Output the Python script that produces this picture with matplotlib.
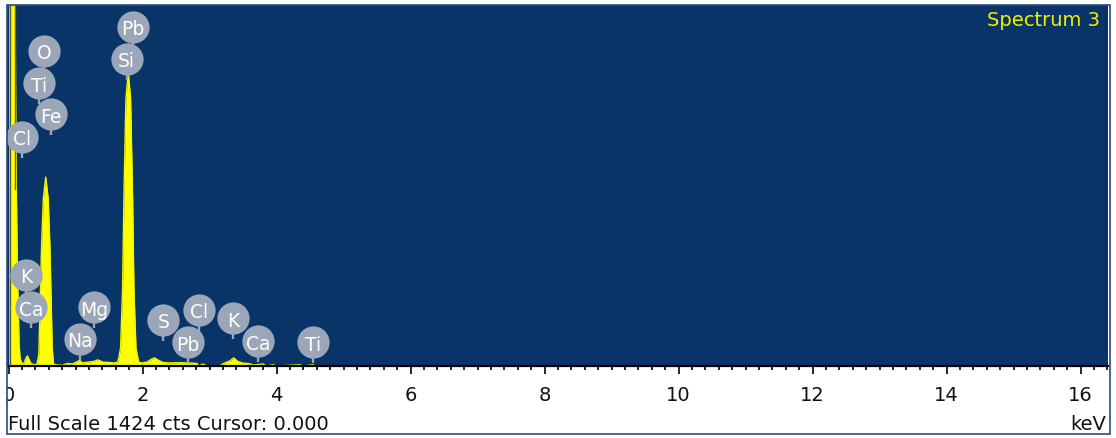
import matplotlib
matplotlib.use("Agg")
import matplotlib.pyplot as plt
from matplotlib.patches import Rectangle
from matplotlib.ticker import MultipleLocator

# ---- data ----
energy_kev = [0.00, 0.09, 0.11, 0.13, 0.155, 0.17, 0.20, 0.23, 0.26, 0.28, 0.31, 0.34, 0.38,
              0.42, 0.45, 0.49, 0.517, 0.553, 0.59, 0.617, 0.65, 0.67, 0.72, 0.80, 0.88,
              0.95, 1.00, 1.06, 1.10, 1.18, 1.27, 1.33, 1.41, 1.50, 1.58, 1.63, 1.67, 1.70,
              1.72, 1.75, 1.785, 1.82, 1.85, 1.87, 1.90, 1.94, 1.98, 2.06, 2.14, 2.18, 2.22,
              2.30, 2.40, 2.55, 2.70, 2.81, 2.84, 2.90, 2.96, 3.15, 3.20, 3.30, 3.36, 3.42,
              3.50, 3.60, 3.65, 3.80, 3.84, 3.95, 4.00, 4.35, 4.40, 4.54, 4.58, 16.4]
counts = [1700, 1700, 800, 380, 90, 30, 8, 12, 32, 40, 22, 8, 6,
          6, 45, 460, 660, 745, 660, 460, 70, 8, 4, 3, 10,
          8, 14, 22, 12, 15, 18, 24, 15, 14, 12, 16, 70, 300,
          660, 1053, 1160, 1053, 660, 300, 70, 16, 12, 15, 28, 32, 25,
          14, 12, 13, 12, 10, 0, 8, 0, 0, 9, 20, 32, 18,
          11, 9, 4, 8, 0, 5, 0, 5, 0, 5, 0, 0]

label_elements = ["O", "Ti", "Fe", "Cl", "Pb", "Si", "K", "Ca", "Mg", "Na",
                  "S", "Cl", "Pb", "K", "Ca", "Ti"]
label_energy = [0.53, 0.46, 0.63, 0.20, 1.85, 1.76, 0.26, 0.33, 1.27, 1.06,
                2.31, 2.84, 2.68, 3.35, 3.72, 4.54]
label_height = [1244, 1115, 994, 905, 1338, 1211, 359, 232, 232, 107,
                183, 222, 93, 188, 97, 93]

tick_values = list(range(0, 17, 2))
tick_labels = [str(v) for v in tick_values]
full_scale = 1424
spectrum_name = "Spectrum 3"
cursor_value = 0.000

# ---- figure ----
W, H = 1116, 439
fig = plt.figure(figsize=(W / 100, H / 100), dpi=100)
fig.patch.set_facecolor("white")
plt.rcParams["font.family"] = ["DejaVu Sans"]

ax_l, ax_r, ax_t, ax_b = 7, 1108, 6, 367
ax = fig.add_axes([ax_l / W, 1 - ax_b / H, (ax_r - ax_l) / W, (ax_b - ax_t) / H])
blue = "#083468"
ax.set_facecolor(blue)

ax.fill_between(energy_kev, counts, 0, color="#ffff00", lw=0, zorder=2)
ax.plot(energy_kev, counts, color="#f4f400", lw=1.0, zorder=2)
# dark edges of the clipped zero-energy peak
ax.plot([0.025, 0.025], [0, 1700], color="#5c5c34", lw=1.0, zorder=3)
ax.plot([0.09, 0.09], [700, 1700], color="#6a6a34", lw=1.0, zorder=3)

ax.set_xlim(-0.025, 16.41)
ax.set_ylim(0, full_scale)

# element markers
gray = "#9ba6b8"
px = full_scale / (ax_b - ax_t)
for el, e, h in zip(label_elements, label_energy, label_height):
    ax.plot([e, e], [h, h - 21 * px], color=gray, lw=1.7, zorder=4, solid_capstyle="butt")
for el, e, h in zip(label_elements, label_energy, label_height):
    ax.scatter([e], [h], s=540, color=gray, zorder=5, linewidths=0)
    ax.text(e, h, el, color="white", fontsize=13.5, ha="center", va="center_baseline",
            zorder=6, clip_on=True)

ax.text((1100 - ax_l) / (ax_r - ax_l), (ax_b - 20) / (ax_b - ax_t), spectrum_name,
        transform=ax.transAxes, ha="right", va="center", color="#f0f000", fontsize=14)

for s in ["top", "left", "right"]:
    ax.spines[s].set_visible(False)
ax.spines["bottom"].set_color("black")
ax.spines["bottom"].set_linewidth(1.6)
ax.set_yticks([])
ax.set_xticks(tick_values)
ax.set_xticklabels(tick_labels)
ax.xaxis.set_minor_locator(MultipleLocator(0.2))
ax.tick_params(axis="x", which="major", direction="out", length=5.5, width=1.2,
               pad=8, labelsize=14, colors="black", labelcolor="#111111")
ax.tick_params(axis="x", which="minor", direction="out", length=3, width=1.2, colors="black")

fig.text(8 / W, 1 - 430 / H, f"Full Scale {full_scale} cts Cursor: {cursor_value:.3f}",
         ha="left", va="baseline", fontsize=14, color="#111111")
fig.text(1106 / W, 1 - 430 / H, "keV", ha="right", va="baseline", fontsize=14, color="#111111")

# white margin cover and outer frame
fig.add_artist(Rectangle((0, 0), 6.5 / W, 1, transform=fig.transFigure,
                         facecolor="white", edgecolor="none", zorder=20))
fig.add_artist(Rectangle((6.5 / W, 1 - 435 / H), (1109.5 - 6.5) / W, (435 - 6) / H,
                         transform=fig.transFigure, facecolor="none",
                         edgecolor="#2a4a80", lw=1.2, zorder=21))

fig.savefig("out.png", dpi=100, facecolor="white")
